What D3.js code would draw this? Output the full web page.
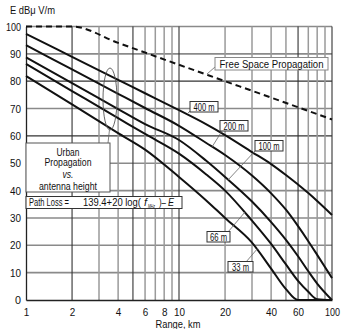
<!DOCTYPE html>
<html>
<head>
<meta charset="utf-8">
<script src="https://cdn.jsdelivr.net/npm/d3@7"></script>
<style>
  html, body { margin: 0; padding: 0; background: #fff; }
  svg { display: block; }
  text { font-family: "Liberation Sans", Arial, sans-serif; fill: #111; }
</style>
</head>
<body>
<svg id="chart" width="343" height="329"></svg>
<script>
// Field strength vs. range for several base-station antenna heights
const rangeKm = [1, 2, 4, 6, 10, 15, 20, 30, 40, 50, 60, 70, 80, 100];
const heights = ["400 m", "200 m", "100 m", "66 m", "33 m"];
const field400 = [97.3, 88.9, 80.5, 75.6, 69.4, 64.3, 60.3, 54.1, 49.7, 45.7, 42.2, 39.1, 36.2, 31.1];
const field200 = [93.2, 84.3, 75.4, 70.2, 63.7, 57.5, 53.0, 45.5, 39.0, 33.0, 27.0, 21.5, 16.5, 8.0];
const field100 = [88.7, 79.3, 69.8, 64.3, 58.5, 51.0, 45.0, 36.0, 28.5, 22.0, 16.0, 10.5, 6.0, 0.0];
const field66  = [86.3, 76.4, 66.5, 60.7, 53.5, 46.0, 40.0, 29.0, 20.5, 13.0, 7.0, 3.0, 0.3, 0.0];
const field33  = [81.9, 71.5, 61.0, 55.0, 45.0, 36.5, 30.0, 21.0, 11.5, 4.0, 0.0, 0.0, 0.0, 0.0];
const fieldSeries = [field400, field200, field100, field66, field33];

// Free-space reference (dashed)
const freeRange = [1, 2, 4, 10, 20, 40, 100];
const freeField = [100, 100, 94, 86, 80, 74, 66];

const yTicks = [0, 10, 20, 30, 40, 50, 60, 70, 80, 90, 100];
const xTickLabels = [1, 2, 4, 6, 8, 10, 20, 40, 60, 100];
const xGrid = [2, 3, 4, 5, 6, 7, 8, 9, 10, 20, 30, 40, 50, 60, 70, 80, 90, 100];
const xGridDark = [2, 5, 10, 60, 100];
const yGridDark = [60, 80];

const svg = d3.select("#chart");
const x = d3.scaleLog().domain([1, 100]).range([26, 332]);
const y = d3.scaleLinear().domain([0, 100]).range([300, 26.5]);

// squeezed text helper: fixes the drawn width of a string
function label(parent, tx, ty, str, size, width, opts = {}) {
  const t = parent.append("text").attr("x", tx).attr("y", ty)
    .attr("font-size", size).text(str);
  if (width) t.attr("textLength", width).attr("lengthAdjust", "spacingAndGlyphs");
  if (opts.anchor) t.attr("text-anchor", opts.anchor);
  if (opts.italic) t.attr("font-style", "italic");
  return t;
}

// grid
svg.append("g").selectAll("line").data(yTicks.filter(d => d > 0)).join("line")
  .attr("x1", x(1)).attr("x2", x(100))
  .attr("y1", d => y(d)).attr("y2", d => y(d))
  .attr("stroke", d => yGridDark.includes(d) ? "#333" : "#8a8a8a")
  .attr("stroke-width", d => yGridDark.includes(d) ? 1.2 : 1.6);

svg.append("g").selectAll("line").data(xGrid).join("line")
  .attr("x1", d => x(d)).attr("x2", d => x(d))
  .attr("y1", y(100)).attr("y2", y(0))
  .attr("stroke", d => xGridDark.includes(d) ? "#333" : "#9a9a9a")
  .attr("stroke-width", d => xGridDark.includes(d) ? 1.1 : 1.5);

// axes
const yAxis = d3.axisLeft(y).tickValues(yTicks).tickSize(0).tickPadding(5);
const gy = svg.append("g").attr("transform", `translate(${x(1)},0)`).call(yAxis);
gy.select(".domain").attr("stroke", "#222").attr("stroke-width", 1.3);
gy.selectAll("text").attr("font-size", 11.5).attr("font-family", null)
  .attr("textLength", d => d === 100 ? 15 : (d === 0 ? 6 : 11))
  .attr("lengthAdjust", "spacingAndGlyphs");

const xAxis = d3.axisBottom(x).tickValues(xTickLabels).tickFormat(d3.format("d")).tickSize(0).tickPadding(8);
const gx = svg.append("g").attr("transform", `translate(0,${y(0)})`).call(xAxis);
gx.select(".domain").attr("stroke", "#222").attr("stroke-width", 1.3);
gx.selectAll("text").attr("font-size", 11).attr("font-family", null)
  .attr("textLength", d => d >= 100 ? 15 : (d >= 10 ? 11 : 5.5))
  .attr("lengthAdjust", "spacingAndGlyphs");

label(svg, 10, 14, "E dBμ V/m", 11, 45);
label(svg, 178, 327.5, "Range, km", 11, 45, { anchor: "middle" });

// curves
const line = d3.line().x(d => x(d[0])).y(d => y(d[1])).curve(d3.curveMonotoneX);
svg.append("g").selectAll("path").data(fieldSeries).join("path")
  .attr("d", s => line(rangeKm.map((r, i) => [r, s[i]])))
  .attr("fill", "none").attr("stroke", "#111").attr("stroke-width", 2);

svg.append("path")
  .attr("d", line(freeRange.map((r, i) => [r, freeField[i]])))
  .attr("fill", "none").attr("stroke", "#111").attr("stroke-width", 2)
  .attr("stroke-dasharray", "6,4");

// annotation helpers
function box(x0, y0, w, h, stroke) {
  svg.append("rect").attr("x", x0).attr("y", y0).attr("width", w).attr("height", h)
    .attr("fill", "#fff").attr("stroke", stroke || "#555").attr("stroke-width", 1);
}
function leader(x1, y1, x2, y2) {
  svg.append("line").attr("x1", x1).attr("y1", y1).attr("x2", x2).attr("y2", y2)
    .attr("stroke", "#666").attr("stroke-width", 0.8);
}

// free space label
leader(215, 67, 207, 74);
box(215, 57.5, 113, 12.5, "#888");
label(svg, 271.5, 67.5, "Free Space Propagation", 10, 104, { anchor: "middle" });

// height labels
const labelBoxes = [
  { t: heights[0], x: 190, y: 101.5, w: 28, tw: 21, lx1: 190, ly1: 111, lx2: 187, ly2: 114 },
  { t: heights[1], x: 220, y: 120.5, w: 28, tw: 21, lx1: 222, ly1: 131, lx2: 212, ly2: 147 },
  { t: heights[2], x: 255, y: 140.5, w: 28, tw: 21, lx1: 255, ly1: 151, lx2: 228, ly2: 180 },
  { t: heights[3], x: 207, y: 231.5, w: 23, tw: 17, lx1: 228, ly1: 232, lx2: 245, ly2: 212 },
  { t: heights[4], x: 228, y: 261.5, w: 25, tw: 17, lx1: 246, ly1: 262, lx2: 258, ly2: 248 }
];
labelBoxes.forEach(b => {
  leader(b.lx1, b.ly1, b.lx2, b.ly2);
  box(b.x, b.y, b.w, 10.5, "#333");
  label(svg, b.x + b.w / 2, b.y + 9, b.t, 10, b.tw, { anchor: "middle" });
});

// urban grouping loop and text box
svg.append("ellipse").attr("cx", 110).attr("cy", 99).attr("rx", 7).attr("ry", 31)
  .attr("fill", "none").attr("stroke", "#555").attr("stroke-width", 0.9);
leader(109.5, 129.5, 108, 143);
box(26, 143, 84, 49, "#555");
const urban = [["Urban", 156, 23, false], ["Propagation", 166, 47, false], ["vs.", 178, 11, true], ["antenna height", 189.5, 58, false]];
urban.forEach(([t, yy, w, it]) => label(svg, 68, yy, t, 10, w, { anchor: "middle", italic: it }));

// path loss formula
box(26, 196.5, 156, 12, "#333");
label(svg, 29, 206, "Path Loss =", 10, 40);
label(svg, 83, 206, "139.4+20 log(", 10, 58);
label(svg, 144, 206, "f", 10, 3, { italic: true });
label(svg, 148, 207.5, "MHz", 6, 7, { italic: true });
label(svg, 159, 206, ")–", 10, 7);
label(svg, 168, 206, "E", 10, 6, { italic: true });
</script>
</body>
</html>
